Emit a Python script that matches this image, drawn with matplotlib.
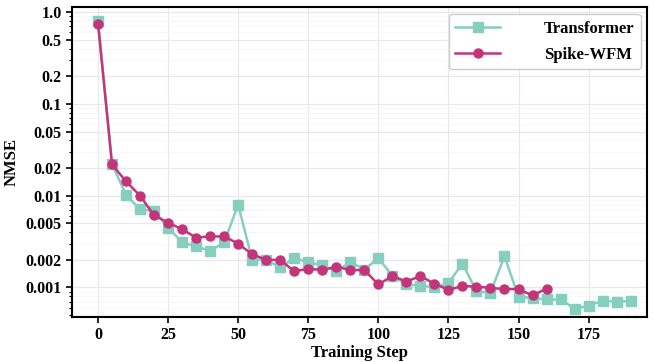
import numpy as np
import matplotlib.pyplot as plt
from matplotlib.ticker import FixedLocator, FixedFormatter, LogLocator, NullFormatter

plt.rcParams['font.family'] = ['Liberation Serif', 'DejaVu Serif']
plt.rcParams['font.weight'] = 'bold'

steps_tf = list(range(0, 195, 5))
nmse_tf = [0.8, 0.022, 0.0102, 0.0071, 0.0068, 0.0045, 0.0031, 0.0028, 0.0025, 0.0031,
           0.008, 0.002, 0.002, 0.00166, 0.0021, 0.00188, 0.00175, 0.0015, 0.0019, 0.00157,
           0.00208, 0.00135, 0.00108, 0.00105, 0.001, 0.00112, 0.00182, 0.00091, 0.00088, 0.00219,
           0.00079, 0.00077, 0.00074, 0.00074, 0.00059, 0.00063, 0.00072, 0.0007, 0.00071]

steps_sw = list(range(0, 165, 5))
nmse_sw = [0.75, 0.0219, 0.0143, 0.01, 0.0061, 0.0051, 0.0043, 0.0035, 0.0036, 0.0036,
           0.003, 0.0023, 0.002, 0.002, 0.0015, 0.0016, 0.00155, 0.00168, 0.00155, 0.00155,
           0.00108, 0.00133, 0.00116, 0.00133, 0.0011, 0.00094, 0.00104, 0.00102, 0.00099, 0.00096,
           0.00096, 0.00082, 0.00097]

yticks = [1.0, 0.5, 0.2, 0.1, 0.05, 0.02, 0.01, 0.005, 0.002, 0.001]
ytick_labels = ['1.0', '0.5', '0.2', '0.1', '0.05', '0.02', '0.01', '0.005', '0.002', '0.001']

fig, ax = plt.subplots(figsize=(6.54, 3.62), dpi=100)
fig.subplots_adjust(left=0.11, right=0.99, top=0.98, bottom=0.125)

ax.plot(steps_tf, nmse_tf, '-s', color='#86cfbe', lw=1.8, ms=6.5, label='Transformer', zorder=3)
ax.plot(steps_sw, nmse_sw, '-o', color='#c2357b', lw=1.8, ms=6.5, label='Spike-WFM', zorder=4)

ax.set_yscale('log')
ax.set_ylim(0.00048, 1.13)
ax.set_xlim(-9.3, 196)
ax.yaxis.set_major_locator(FixedLocator(yticks))
ax.yaxis.set_major_formatter(FixedFormatter(ytick_labels))
ax.yaxis.set_minor_locator(LogLocator(base=10, subs=np.arange(2, 10) * 1.0, numticks=20))
ax.yaxis.set_minor_formatter(NullFormatter())
ax.set_xticks([0, 25, 50, 75, 100, 125, 150, 175])

ax.grid(True, which='major', color='#e8e8e8', lw=0.8)
ax.grid(True, which='minor', axis='y', color='#f4f4f4', lw=0.5)
ax.set_axisbelow(True)

for s in ax.spines.values():
    s.set_linewidth(1.5)
    s.set_color('black')
ax.tick_params(axis='both', which='major', labelsize=11.5, length=4, width=1.2)
ax.tick_params(axis='y', which='minor', length=2, width=0.8)

ax.set_xlabel('Training Step', fontsize=12, fontweight='bold', labelpad=1)
ax.set_ylabel('NMSE', fontsize=12, fontweight='bold')

leg = ax.legend(loc='upper right', fontsize=12, handlelength=2.7, handletextpad=2.6,
                labelspacing=0.6, framealpha=1, edgecolor='#cccccc', borderaxespad=0.4)

fig.savefig('out.png', dpi=100)
